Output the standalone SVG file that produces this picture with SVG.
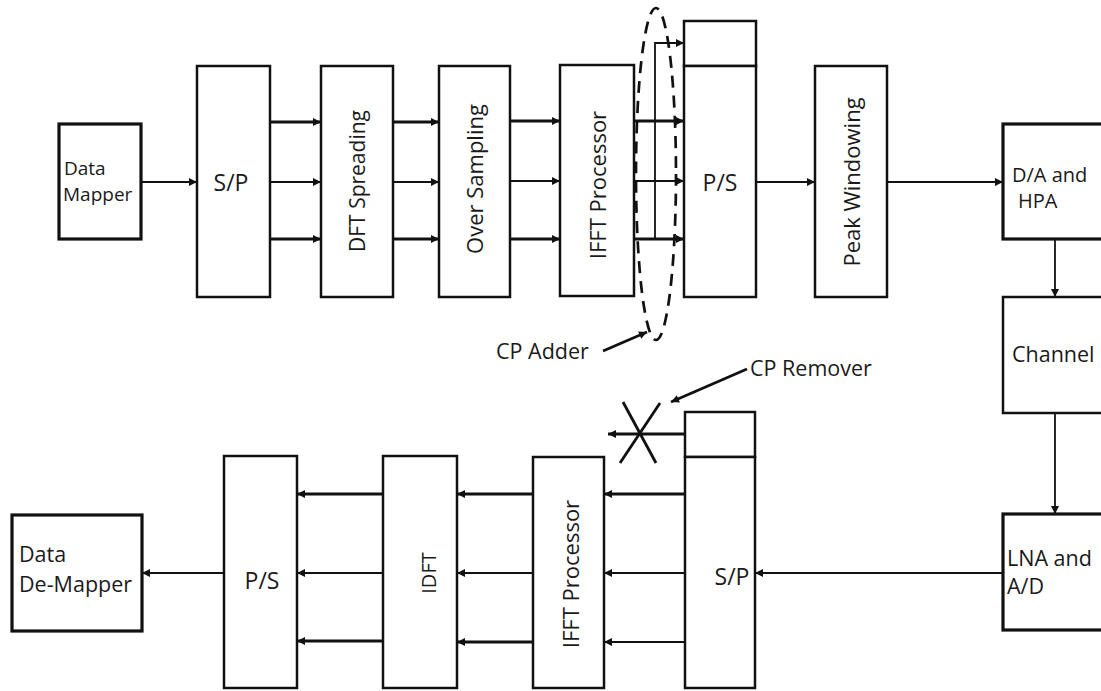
<svg xmlns="http://www.w3.org/2000/svg" width="1101" height="691" viewBox="0 0 1101 691">
<style>
.box{fill:#fff;stroke:#111;stroke-width:2.5}
.bold{fill:#fff;stroke:#111;stroke-width:3.2}
.t{font-family:"Open Sans","Noto Sans",sans-serif;fill:#1a1a1a}
.lbl{font-size:23px}
.sm{font-size:21.5px}
.dm{font-size:19px}
.v{font-size:22px;text-anchor:middle;dominant-baseline:central}
.c{text-anchor:middle}
.w{fill:none;stroke:#111;stroke-width:1.8}
.k{fill:none;stroke:#111;stroke-width:2.8}
</style>
<defs>
<marker id="ah" viewBox="0 0 10 10" refX="10" refY="5" markerWidth="9" markerHeight="8" markerUnits="userSpaceOnUse" orient="auto">
<path d="M0,0 L10,5 L0,10 z" fill="#111"/>
</marker>
</defs>
<g id="connectors">
<line class="w" x1="141" y1="182" x2="197" y2="182" marker-end="url(#ah)"/>
<line class="k" x1="270" y1="122" x2="321" y2="122" marker-end="url(#ah)"/>
<line class="w" x1="270" y1="182" x2="321" y2="182" marker-end="url(#ah)"/>
<line class="k" x1="270" y1="239" x2="321" y2="239" marker-end="url(#ah)"/>
<line class="k" x1="393" y1="122" x2="439" y2="122" marker-end="url(#ah)"/>
<line class="w" x1="393" y1="182" x2="439" y2="182" marker-end="url(#ah)"/>
<line class="k" x1="393" y1="239" x2="439" y2="239" marker-end="url(#ah)"/>
<line class="k" x1="510" y1="121" x2="560" y2="121" marker-end="url(#ah)"/>
<line class="w" x1="510" y1="181" x2="560" y2="181" marker-end="url(#ah)"/>
<line class="k" x1="510" y1="239" x2="560" y2="239" marker-end="url(#ah)"/>
<line class="k" x1="634" y1="121" x2="684" y2="121" marker-end="url(#ah)"/>
<line class="w" x1="634" y1="181" x2="684" y2="181" marker-end="url(#ah)"/>
<line class="k" x1="634" y1="239" x2="684" y2="239" marker-end="url(#ah)"/>
<polyline class="w" points="655,239 655,43 684,43" marker-end="url(#ah)"/>
<line class="w" x1="756" y1="182" x2="815" y2="182" marker-end="url(#ah)"/>
<line class="w" x1="887" y1="182" x2="1003" y2="182" marker-end="url(#ah)"/>
<line class="w" x1="1055" y1="239" x2="1055" y2="297" marker-end="url(#ah)"/>
<line class="w" x1="1055" y1="413" x2="1055" y2="514" marker-end="url(#ah)"/>
<line class="w" x1="1003" y1="573" x2="755" y2="573" marker-end="url(#ah)"/>
<line class="k" x1="685" y1="494" x2="604" y2="494" marker-end="url(#ah)"/>
<line class="w" x1="685" y1="573" x2="604" y2="573" marker-end="url(#ah)"/>
<line class="w" x1="685" y1="642" x2="604" y2="642" marker-end="url(#ah)"/>
<line class="k" x1="533" y1="494" x2="457" y2="494" marker-end="url(#ah)"/>
<line class="w" x1="533" y1="573" x2="457" y2="573" marker-end="url(#ah)"/>
<line class="k" x1="533" y1="642" x2="457" y2="642" marker-end="url(#ah)"/>
<line class="k" x1="383" y1="494" x2="297" y2="494" marker-end="url(#ah)"/>
<line class="w" x1="383" y1="573" x2="297" y2="573" marker-end="url(#ah)"/>
<line class="k" x1="383" y1="641" x2="297" y2="641" marker-end="url(#ah)"/>
<line class="w" x1="224" y1="573" x2="142" y2="573" marker-end="url(#ah)"/>
<line class="k" x1="685" y1="434" x2="608" y2="434" marker-end="url(#ah)"/>
<line class="k" x1="623" y1="402" x2="656" y2="463"/>
<line class="k" x1="660" y1="403" x2="620" y2="463"/>
<line class="k" x1="603" y1="351" x2="647" y2="332" marker-end="url(#ah)"/>
<line class="k" x1="747" y1="369" x2="671" y2="402" marker-end="url(#ah)"/>
<ellipse cx="656" cy="174" rx="20" ry="166" fill="none" stroke="#111" stroke-width="2.7" stroke-dasharray="12 8"/>
</g>
<g id="data-mapper"><rect class="bold" x="59" y="124" width="82" height="115"/><text class="t dm" x="64" y="175">Data</text><text class="t dm" x="63" y="201">Mapper</text></g>
<g id="sp-tx"><rect class="box" x="197" y="66" width="73" height="231"/><text class="t lbl c" x="231" y="191">S/P</text></g>
<g id="dft"><rect class="box" x="321" y="66" width="72" height="231"/><text class="t v" transform="rotate(-90 357 181)" x="357" y="181" style="font-size:21px">DFT Spreading</text></g>
<g id="oversampling"><rect class="box" x="439" y="66" width="71" height="231"/><text class="t v" transform="rotate(-90 474 179)" x="474" y="179">Over Sampling</text></g>
<g id="ifft-tx"><rect class="box" x="560" y="65" width="74" height="231"/><text class="t v" transform="rotate(-90 597 185)" x="597" y="185">IFFT Processor</text></g>
<g id="ps-tx"><rect class="box" x="684" y="21" width="72" height="45"/><rect class="box" x="684" y="66" width="72" height="231"/><text class="t lbl c" x="720" y="191">P/S</text></g>
<g id="peak"><rect class="box" x="815" y="66" width="72" height="231"/><text class="t v" transform="rotate(-90 851 182)" x="851" y="182">Peak Windowing</text></g>
<g id="da-hpa"><rect class="bold" x="1003" y="124" width="120" height="115"/><text class="t" style="font-size:20px" x="1012" y="182">D/A and</text><text class="t" style="font-size:20px" x="1018" y="208">HPA</text></g>
<g id="channel"><rect class="box" x="1003" y="297" width="120" height="116"/><text class="t sm" x="1012" y="362">Channel</text></g>
<g id="lna-ad"><rect class="bold" x="1003" y="514" width="120" height="116"/><text class="t sm" x="1007" y="566">LNA and</text><text class="t sm" x="1007" y="594">A/D</text></g>
<g id="sp-rx"><rect class="box" x="685" y="412" width="70" height="45"/><rect class="box" x="685" y="457" width="70" height="231"/><text class="t lbl c" x="732" y="585">S/P</text></g>
<g id="ifft-rx"><rect class="box" x="533" y="457" width="71" height="231"/><text class="t v" transform="rotate(-90 570 574)" x="570" y="574">IFFT Processor</text></g>
<g id="idft"><rect class="box" x="383" y="456" width="74" height="232"/><text class="t v" transform="rotate(-90 428 573)" x="428" y="573" style="font-size:20px">IDFT</text></g>
<g id="ps-rx"><rect class="box" x="224" y="456" width="73" height="232"/><text class="t lbl c" x="262" y="589">P/S</text></g>
<g id="de-mapper"><rect class="bold" x="12" y="515" width="130" height="116"/><text class="t sm" x="19" y="562">Data</text><text class="t sm" x="19" y="592">De-Mapper</text></g>
<g id="labels"><text class="t sm" x="496" y="359">CP Adder</text><text class="t sm" x="750" y="376">CP Remover</text></g>
</svg>
